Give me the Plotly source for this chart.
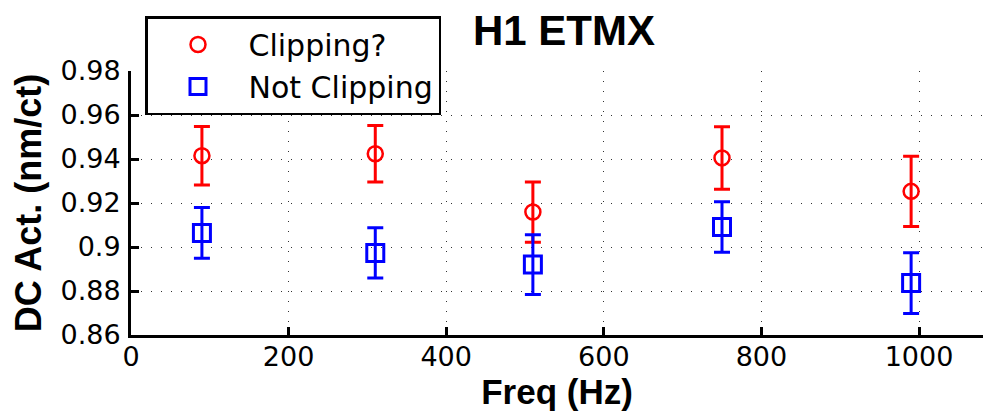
import plotly.graph_objects as go

freq = [90, 310, 510, 750, 990]
clip_vals = [0.9415, 0.9424, 0.9159, 0.9405, 0.9253]
clip_err = [0.0133, 0.0128, 0.0137, 0.0142, 0.0160]
notclip_vals = [0.9064, 0.8973, 0.8920, 0.9091, 0.8836]
notclip_err = [0.0115, 0.0114, 0.0136, 0.0115, 0.0138]

x_ticks = [0, 200, 400, 600, 800, 1000]
y_ticks = [0.86, 0.88, 0.90, 0.92, 0.94, 0.96, 0.98]
y_ticktext = ["0.86", "0.88", "0.9", "0.92", "0.94", "0.96", "0.98"]

BOLD_FONT = "Liberation Sans, Arial, sans-serif"
TICK_FONT = "DejaVu Sans, sans-serif"

# the page body has an 8px default margin on every side; keep the figure inside it
OFF = 8
W, H = 991 - 2 * OFF, 419 - 2 * OFF
PL, PT, PB, PR = 131, 71, 335, 983  # plot area edges in page pixels
L = PL - OFF
T = PT - OFF
B = H - (PB - OFF)
R = W - (PR - OFF)
PW = W - L - R
PH = H - T - B

fig = go.Figure()
fig.add_trace(go.Scatter(
    x=freq, y=clip_vals, mode="markers", name="Clipping?",
    marker=dict(symbol="circle-open", size=15, color="#ff0000", line=dict(width=2.5, color="#ff0000")),
    error_y=dict(type="data", array=clip_err, visible=True, color="#ff0000", thickness=3, width=8),
))
fig.add_trace(go.Scatter(
    x=freq, y=notclip_vals, mode="markers", name="Not Clipping",
    marker=dict(symbol="square-open", size=17, color="#0000ff", line=dict(width=3, color="#0000ff")),
    error_y=dict(type="data", array=notclip_err, visible=True, color="#0000ff", thickness=3, width=8),
))

fig.update_layout(
    width=W, height=H,
    margin=dict(l=L, r=R, t=T, b=B, pad=0),
    paper_bgcolor="white", plot_bgcolor="white",
    font=dict(family=TICK_FONT, color="black"),
    title=dict(text="H1 ETMX", x=(564 - PL) / PW, xref="paper", xanchor="center",
               y=1 - (30 - OFF) / H, yref="container", yanchor="middle",
               font=dict(size=42, weight="bold", family=BOLD_FONT, color="black")),
    showlegend=True,
    legend=dict(x=(145 - PL) / PW, y=(PB - 16) / PH, xanchor="left", yanchor="top",
                bgcolor="white", bordercolor="black", borderwidth=2.5,
                font=dict(size=30, family=TICK_FONT, color="black"),
                itemwidth=91, tracegroupgap=0),
)
fig.update_xaxes(
    range=[0, (PR - PL) / 0.788], tickvals=x_ticks, ticktext=[str(v) for v in x_ticks],
    showline=True, linecolor="black", linewidth=3, mirror=False,
    ticks="inside", ticklen=8, tickwidth=2.5, tickcolor="black",
    showgrid=True, gridcolor="#333333", gridwidth=1, griddash="1px,9px",
    zeroline=False, tickfont=dict(size=27, family=TICK_FONT, color="black"),
    ticklabelstandoff=-4,
    title=dict(text="Freq (Hz)", font=dict(size=35, weight="bold", family=BOLD_FONT, color="black"), standoff=2),
)
fig.update_yaxes(
    range=[0.86, 0.98], tickvals=y_ticks, ticktext=y_ticktext,
    showline=True, linecolor="black", linewidth=3, mirror=False,
    ticks="inside", ticklen=8, tickwidth=2.5, tickcolor="black",
    showgrid=True, gridcolor="#333333", gridwidth=1, griddash="1px,9px",
    zeroline=False, tickfont=dict(size=27, family=TICK_FONT, color="black"),
    ticklabelstandoff=2,
    title=dict(text="DC Act. (nm/ct)", font=dict(size=36, weight="bold", family=BOLD_FONT, color="black"), standoff=10),
)

fig.write_html("out.html")
